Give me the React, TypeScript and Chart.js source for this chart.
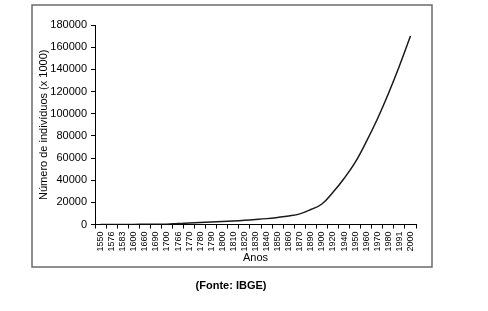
import React, { useEffect, useRef } from "react";
import { Chart, registerables } from "chart.js";

Chart.register(...registerables);

const years = ["1550","1576","1583","1600","1660","1690","1700","1766","1770","1780","1790","1800","1810","1820","1830","1840","1850","1860","1870","1890","1900","1920","1940","1950","1960","1970","1980","1991","2000"];
const population = [15, 17, 57, 100, 184, 242, 300, 900, 1300, 1700, 2200, 2700, 3200, 3800, 4500, 5300, 6400, 7700, 9600, 13500, 18500, 29000, 41500, 56000, 74500, 95000, 118000, 143000, 170000];
const yTitle = "Número de indivíduos (x 1000)";
const xTitle = "Anos";
const sourceText = "(Fonte: IBGE)";

const FONT = "'Liberation Sans', Arial, sans-serif";

export default function App() {
  const ref = useRef<HTMLCanvasElement | null>(null);
  useEffect(() => {
    if (!ref.current) return;
    const framePlugin = {
      id: "frame",
      afterDraw(chart: any) {
        const ctx = chart.ctx;
        ctx.save();
        ctx.strokeStyle = "#6b6b6b";
        ctx.lineWidth = 1.5;
        ctx.strokeRect(32, 5, 400, 262);
        ctx.fillStyle = "#000";
        ctx.font = "bold 11px " + FONT;
        ctx.textAlign = "center";
        ctx.textBaseline = "middle";
        ctx.fillText(sourceText, 231, 286);
        ctx.restore();
      },
    };
    const chart = new Chart(ref.current, {
      type: "line",
      data: {
        labels: years,
        datasets: [
          {
            data: population,
            borderColor: "#1a1a1a",
            borderWidth: 1.5,
            pointRadius: 0,
            fill: false,
            tension: 0.4,
          },
        ],
      },
      options: {
        animation: false,
        responsive: false,
        layout: { padding: { left: 32, right: 72, top: 25, bottom: 38.5 } },
        plugins: { legend: { display: false }, tooltip: { enabled: false } },
        scales: {
          x: {
            type: "category",
            offset: true,
            afterFit(scale: any) { scale.height = 48; },
            grid: { drawOnChartArea: false, drawTicks: true, tickLength: 4, color: "#000", offset: true },
            border: { display: true, color: "#000", width: 1 },
            ticks: { autoSkip: false, minRotation: 90, maxRotation: 90, padding: 3, color: "#000", font: { family: FONT, size: 9 } },
            title: { display: true, text: xTitle, color: "#000", font: { family: FONT, size: 11 }, padding: { top: 0, bottom: 8 } },
          },
          y: {
            min: 0,
            max: 180000,
            afterFit(scale: any) { scale.width = 63; },
            grid: { drawOnChartArea: false, drawTicks: true, tickLength: 4, color: "#000" },
            border: { display: true, color: "#000", width: 1 },
            ticks: { stepSize: 20000, padding: 4, color: "#000", font: { family: FONT, size: 11 }, callback: (v: any) => String(v) },
            title: { display: true, text: yTitle, color: "#000", font: { family: FONT, size: 11 }, padding: { top: 5, bottom: 0 } },
          },
        },
      },
      plugins: [framePlugin],
    } as any);
    return () => chart.destroy();
  }, []);
  return (
    <div style={{ position: "fixed", left: 0, top: 0, width: 488, height: 311, background: "#fff" }}>
      <canvas ref={ref} width={488} height={311} style={{ width: 488, height: 311, display: "block" }} />
    </div>
  );
}
